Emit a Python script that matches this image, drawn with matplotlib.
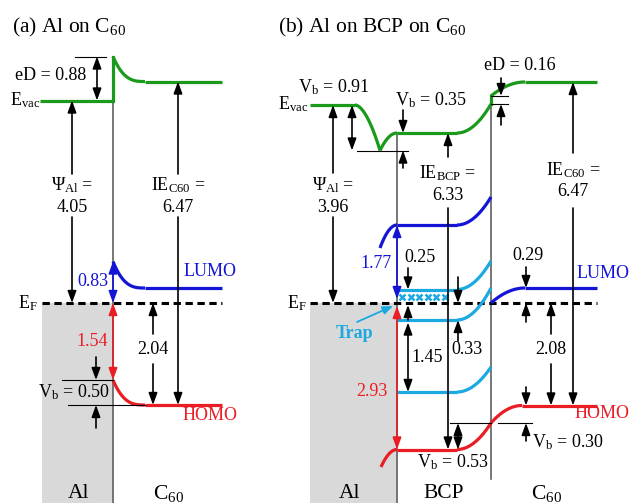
import numpy as np
import matplotlib
matplotlib.use('Agg')
import matplotlib.pyplot as plt
from matplotlib.patches import Rectangle

plt.rcParams['font.family'] = ['Liberation Serif', 'DejaVu Serif']
plt.rcParams['mathtext.fontset'] = 'custom'
plt.rcParams['mathtext.rm'] = 'Liberation Serif'
plt.rcParams['mathtext.it'] = 'Liberation Serif:italic'
plt.rcParams['mathtext.bf'] = 'Liberation Serif:bold'

# ---------------- data: energies in eV relative to E_F ----------------
# panel (a): Al on C60
a_evac = [4.05, 4.93, 4.43]        # Al vacuum level, interface peak, C60 bulk
a_lumo = [0.83, 0.30]              # C60 LUMO at interface, bulk
a_homo = [-1.54, -2.04]            # C60 HOMO at interface, bulk
a_labels = ['0.88', '4.05', '6.47', '0.83', '1.54', '2.04', '0.50']

# panel (b): Al on BCP on C60
b_evac = [3.96, 3.05, 3.40, 3.98, 4.14, 4.42]  # Al, dip, BCP flat, BCP@C60, C60@BCP, C60 bulk
b_lumo_bcp = [1.10, 1.56, 2.12]    # Al side start, BCP flat, BCP@C60
b_gap = [0.27, -0.34, -1.78]       # BCP gap (trap) states, flat part
b_gap_end = [0.84, 0.30, -1.28]    # gap states at the BCP/C60 interface
b_homo_bcp = [-3.28, -2.93, -2.40] # Al side start, BCP flat, BCP@C60
b_lumo_c60 = [0.00, 0.30]          # interface, bulk
b_homo_c60 = [-2.40, -2.05]        # interface, bulk
b_trap = 0.12                      # trap marks just above E_F
b_labels = ['0.91', '0.35', '0.16', '3.96', '6.33', '6.47', '1.77', '0.25',
            '0.33', '1.45', '2.93', '0.29', '2.08', '0.53', '0.30']

# ---------------- styles ----------------
GREEN = '#1a9a1a'
BLUE = '#1414d6'
RED = '#ea1c24'
CYAN = '#1ba9e1'
FILL = '#d9d9d9'
IFACE = '#606060'
LW = 2.3
FS = 13

fig = plt.figure(figsize=(6.32, 5.03), dpi=100)
ax = fig.add_axes([0, 0, 1, 1])
ax.set_xlim(0, 632)
ax.set_ylim(-4.0, 6.06)
ax.axis('off')


def E(ypx):
    """layout helper: pixel row -> energy coordinate"""
    return (303 - ypx) / 50.0


def flat(x0, x1, e, color, lw=LW, **kw):
    ax.plot([x0, x1], [e, e], color=color, lw=lw, solid_capstyle='butt', **kw)


def bend(x0, x1, e0, e1, color, kind='out', p=2.0, lw=LW):
    # 'out': steep at x0, flat at x1 ; 'in': flat at x0, steep at x1
    t = np.linspace(0, 1, 120)
    x = x0 + (x1 - x0) * t
    if kind == 'out':
        e = e1 + (e0 - e1) * (1 - t) ** p
    else:
        e = e0 + (e1 - e0) * t ** p
    ax.plot(x, e, color=color, lw=lw, solid_capstyle='butt')


def arrow(x, e0, e1, color='k', both=False, lw=1.2):
    style = ('<|-|>' if both else '-|>') + ',head_length=0.55,head_width=0.2'
    ax.annotate('', xy=(x, e1), xytext=(x, e0),
                arrowprops=dict(arrowstyle=style, color=color, lw=lw,
                                shrinkA=0, shrinkB=0, mutation_scale=13))


def thin(x0, x1, e):
    ax.plot([x0, x1], [e, e], color='k', lw=0.8)


def txt(x, ypx, s, ha='center', color='k', size=FS, **kw):
    ax.text(x, E(ypx), s, ha=ha, va='center', color=color, fontsize=size, **kw)


def ef_line(x0, x1):
    ax.plot([x0, x1], [0, 0], color='k', lw=2.2, dashes=(2.4, 1.5))


# ===================== panel (a) =====================
ax.add_patch(Rectangle((42, -4.0), 113 - 42, 4.0, color=FILL, lw=0, zorder=0))
ax.plot([113, 113], [a_evac[1], -4.0], color=IFACE, lw=1.2, zorder=1)
ef_line(42, 222)

flat(40, 113, a_evac[0], GREEN)
ax.plot([113, 113], [a_evac[0], a_evac[1]], color=GREEN, lw=LW)
bend(113, 145, a_evac[1], a_evac[2], GREEN, 'out', 3)
flat(145, 222, a_evac[2], GREEN)

bend(113, 145, a_lumo[0], a_lumo[1], BLUE, 'out', 3)
flat(145, 222, a_lumo[1], BLUE)
bend(113, 145, a_homo[0], a_homo[1], RED, 'out', 3)
flat(145, 222, a_homo[1], RED)

# eD
thin(75, 106, a_evac[1])
arrow(97, a_evac[0], a_evac[1], both=True)
# work function
arrow(72, E(174), a_evac[0])
arrow(72, E(217), 0)
# IE C60
arrow(178, E(174), a_evac[2])
arrow(178, E(217), a_homo[1])
# 0.83 / 1.54
arrow(113, 0, a_lumo[0], color=BLUE, both=True)
arrow(113, 0, a_homo[0], color=RED, both=True)
# 2.04
arrow(153, E(334), 0)
arrow(153, E(364), a_homo[1])
# Vb 0.50
thin(62, 113, a_homo[0])
thin(68, 145, a_homo[1])
arrow(96, E(357), a_homo[0])
arrow(96, E(428), a_homo[1])

txt(12, 27, r'(a) Al on C$_{60}$', ha='left', size=15.5)
txt(15, 75, 'eD = ' + a_labels[0], ha='left')
txt(10, 100, r'E$_{\rm vac}$', ha='left')
txt(72, 185, r'$\Psi_{\rm Al}$ =')
txt(72, 207, a_labels[1])
txt(178, 185, r'IE$_{\rm C60}$ =')
txt(178, 207, a_labels[2])
txt(108, 281, a_labels[3], ha='right', color=BLUE)
txt(108, 341, a_labels[4], ha='right', color=RED)
txt(153, 349, a_labels[5])
txt(110, 392, r'V$_{\rm b}$ = ' + a_labels[6], ha='right')
txt(210, 272, 'LUMO', color=BLUE)
txt(210, 415, 'HOMO', color=RED)
txt(18, 303, r'E$_{\rm F}$', ha='left')
txt(79, 494, 'Al', size=15.5)
txt(168, 494, r'C$_{60}$', size=15.5)

# ===================== panel (b) =====================
ax.add_patch(Rectangle((310, -4.0), 397 - 310, 4.0, color=FILL, lw=0, zorder=0))
ax.plot([397, 397], [b_evac[2], -4.0], color=IFACE, lw=1.2, zorder=1)
ax.plot([491, 491], [b_evac[4], E(479)], color=IFACE, lw=1.2, zorder=1)
ef_line(310, 597)

# vacuum level
flat(310, 355, b_evac[0], GREEN)
bend(355, 380, b_evac[0], b_evac[1], GREEN, 'in', 1.8)
bend(380, 397, b_evac[1], b_evac[2], GREEN, 'out', 2)
flat(397, 457, b_evac[2], GREEN)
bend(457, 491, b_evac[2], b_evac[3], GREEN, 'in', 2)
ax.plot([491, 491], [b_evac[3], b_evac[4]], color=GREEN, lw=LW)
bend(491, 525, b_evac[4], b_evac[5], GREEN, 'out', 2)
flat(525, 597, b_evac[5], GREEN)

# BCP LUMO
bend(380, 397, b_lumo_bcp[0], b_lumo_bcp[1], BLUE, 'out', 2)
flat(397, 457, b_lumo_bcp[1], BLUE)
bend(457, 491, b_lumo_bcp[1], b_lumo_bcp[2], BLUE, 'in', 2)
# BCP gap states
for e0, e1 in zip(b_gap, b_gap_end):
    flat(397, 457, e0, CYAN)
    bend(457, 491, e0, e1, CYAN, 'in', 2)
# BCP HOMO
bend(381, 397, b_homo_bcp[0], b_homo_bcp[1], RED, 'out', 2)
flat(397, 457, b_homo_bcp[1], RED)
bend(457, 491, b_homo_bcp[1], b_homo_bcp[2], RED, 'in', 2)
# C60 levels
bend(491, 525, b_lumo_c60[0], b_lumo_c60[1], BLUE, 'out', 2)
flat(525, 597, b_lumo_c60[1], BLUE)
bend(491, 522, b_homo_c60[0], b_homo_c60[1], RED, 'out', 2)
flat(522, 597, b_homo_c60[1], RED)

# trap marks
ax.plot(np.linspace(402, 445, 6), [b_trap] * 6, ls='none', marker='x',
        ms=4.5, mew=1.8, color=CYAN)

# Vb 0.91
thin(357, 408, b_evac[1])
arrow(352, b_evac[0], b_evac[1], both=True)
# Vb 0.35
arrow(403, E(110), b_evac[2])
arrow(403, E(168), b_evac[1])
# work function
arrow(333, E(173), b_evac[0])
arrow(333, E(217), 0)
# IE BCP
arrow(448, E(157), b_evac[2])
arrow(448, E(208), b_homo_bcp[1])
# IE C60
arrow(573, E(153), b_evac[5])
arrow(573, E(208), b_homo_c60[1])
# eD 0.16
thin(491, 508, b_evac[3])
thin(491, 508, b_evac[4])
arrow(501, E(78), b_evac[4])
arrow(501, E(125), b_evac[3])
# 1.77 / 2.93
arrow(397, E(299), b_lumo_bcp[1], color=BLUE, both=True)
arrow(397, E(306), b_homo_bcp[1], color=RED, both=True)
# 0.25
arrow(408, E(268), b_gap[0])
arrow(458, E(277), 0)
# 0.33 / 1.45
arrow(408, b_gap[1], E(305))
arrow(408, b_gap[1] - 0.05, b_gap[2], both=True)
arrow(458, E(341), b_gap[1])
# 0.29
arrow(526, E(267), b_lumo_c60[1])
arrow(526, E(322), 0)
# 2.08
arrow(551, E(334), 0)
arrow(551, E(364), b_homo_c60[1])
# Vb 0.53
thin(450, 491, b_homo_bcp[2])
arrow(458, b_homo_bcp[2], b_homo_bcp[1], both=True)
# Vb 0.30
thin(498, 532, b_homo_c60[0])
arrow(526, E(441), b_homo_c60[0])
arrow(526, E(387), b_homo_c60[1])
# trap pointer
ax.annotate('', xy=(393, E(306)), xytext=(357, E(322)),
            arrowprops=dict(arrowstyle='-|>,head_length=0.5,head_width=0.2',
                            color=CYAN, lw=1.3, shrinkA=0, shrinkB=0,
                            mutation_scale=12))

txt(278, 27, r'(b) Al on BCP on C$_{60}$', ha='left', size=15.5)
txt(278, 104, r'E$_{\rm vac}$', ha='left')
txt(334, 87, r'V$_{\rm b}$ = ' + b_labels[0])
txt(431, 100, r'V$_{\rm b}$ = ' + b_labels[1])
txt(520, 65, 'eD = ' + b_labels[2])
txt(333, 185, r'$\Psi_{\rm Al}$ =')
txt(333, 207, b_labels[3])
txt(448, 173, r'IE$_{\rm BCP}$ =')
txt(448, 195, b_labels[4])
txt(573, 170, r'IE$_{\rm C60}$ =')
txt(573, 192, b_labels[5])
txt(392, 263, b_labels[6], ha='right', color=BLUE)
txt(420, 257, b_labels[7])
txt(467, 349, b_labels[8])
txt(427, 357, b_labels[9])
txt(388, 391, b_labels[10], ha='right', color=RED)
txt(528, 256, b_labels[11])
txt(551, 349, b_labels[12])
txt(453, 462, r'V$_{\rm b}$ = ' + b_labels[13])
txt(532, 442, r'V$_{\rm b}$ = ' + b_labels[14], ha='left')
txt(355, 334, 'Trap', color=CYAN, fontweight='bold')
txt(603, 274, 'LUMO', color=BLUE)
txt(630, 414, 'HOMO', ha='right', color=RED)
txt(287, 303, r'E$_{\rm F}$', ha='left')
txt(350, 494, 'Al', size=15.5)
txt(444, 494, 'BCP', size=15.5)
txt(546, 494, r'C$_{60}$', size=15.5)

fig.savefig('out.png', dpi=100)
